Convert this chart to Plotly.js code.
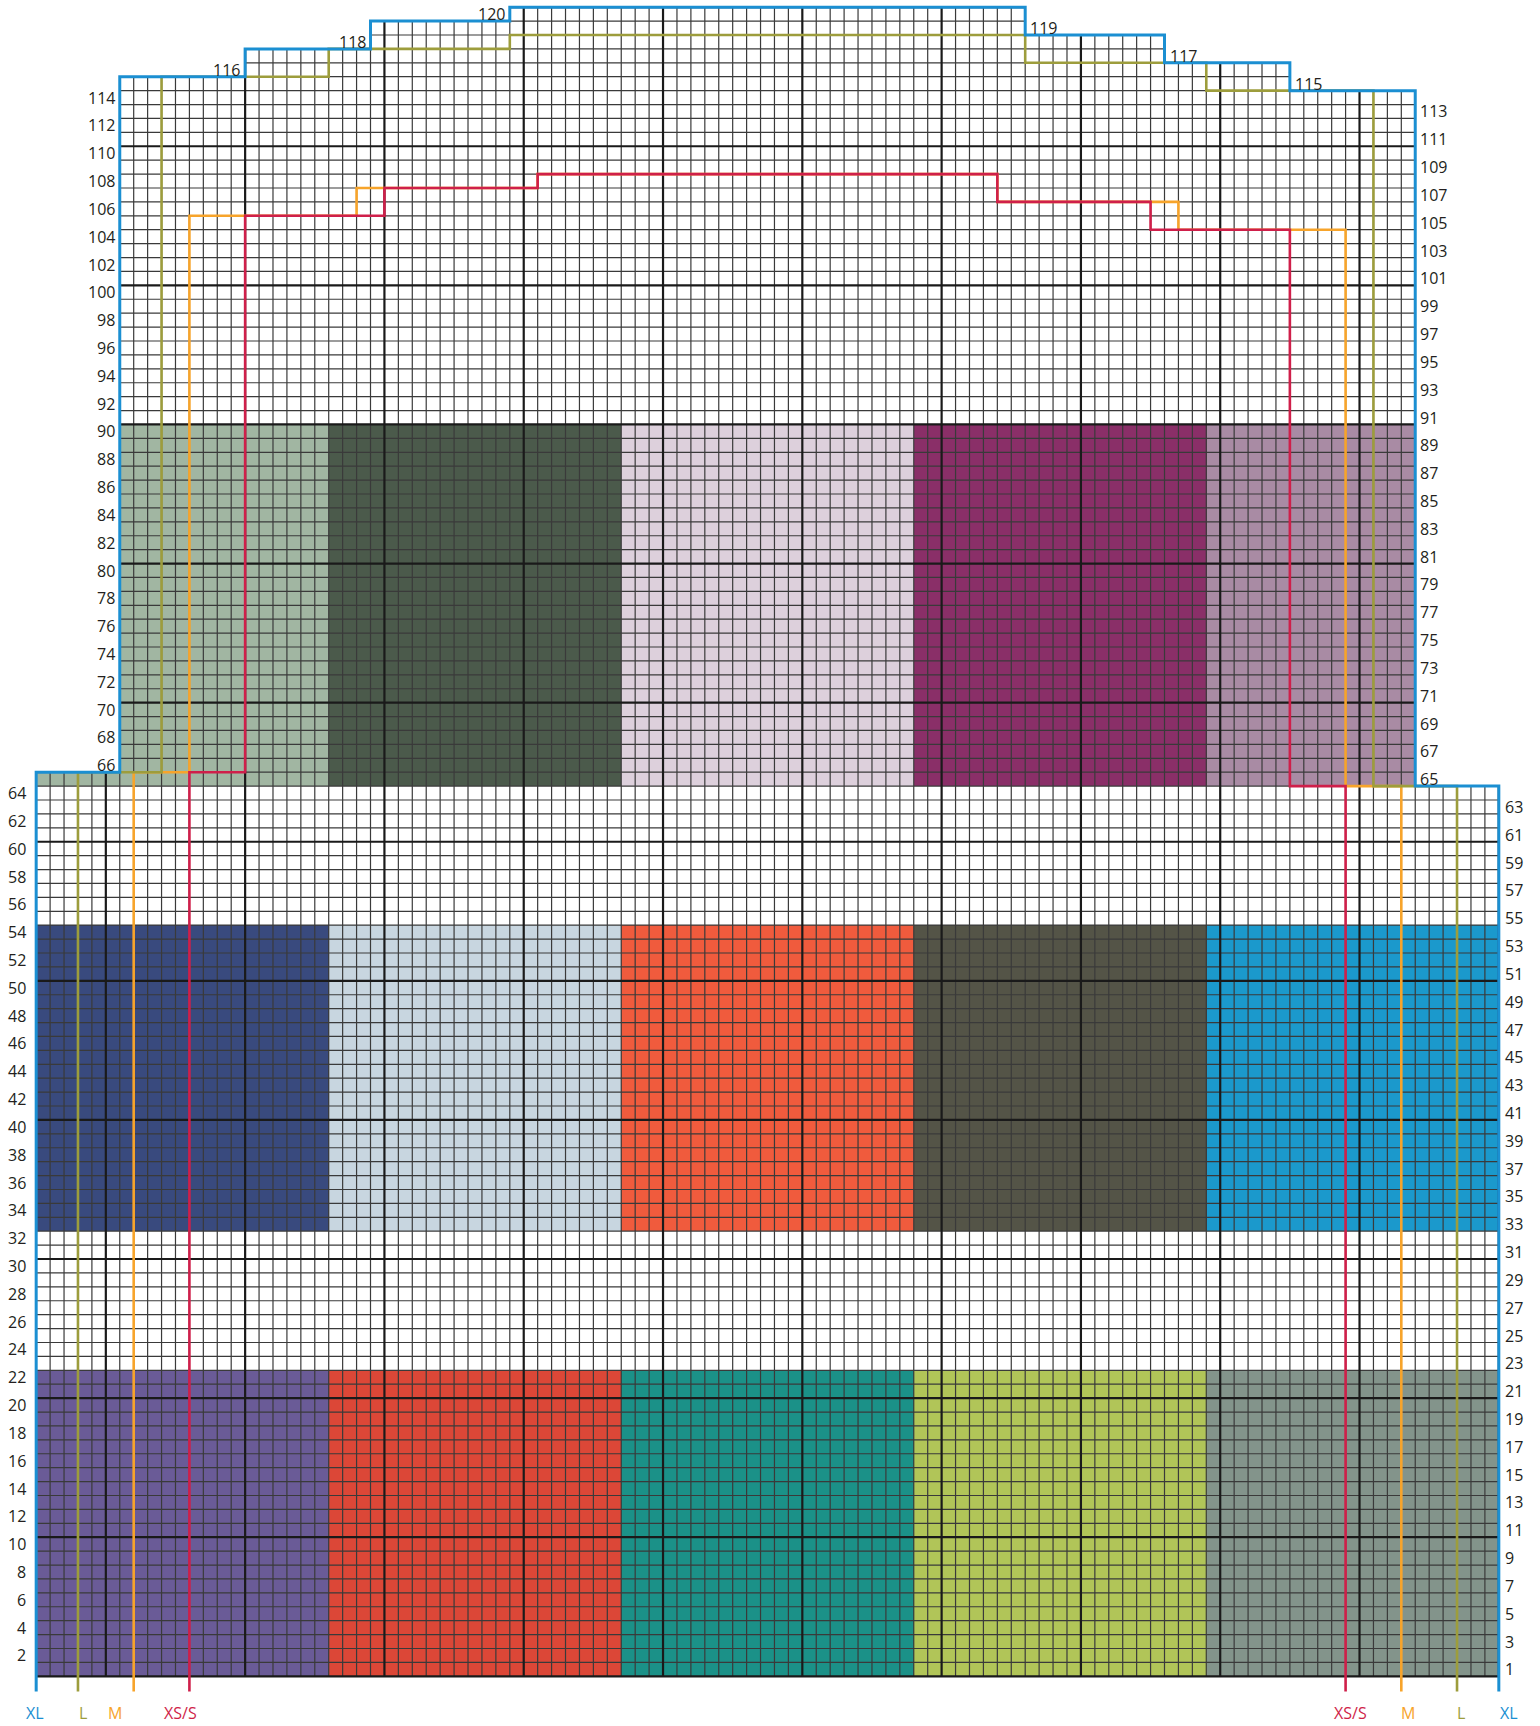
<!DOCTYPE html>
<html><head><meta charset="utf-8">
<script src="https://cdn.plot.ly/plotly-3.0.1.min.js"></script>
<style>html,body{margin:0;padding:0;background:#fff;} #chart{width:1540px;height:1726px;}</style>
</head><body><div id="chart"></div>
<script>
// ---------------- DATA ----------------
const nCols = 105;
// colour bands: [firstRow, lastRow]
const bandRows = [[1, 22], [33, 54], [65, 90]];
// colour blocks: [firstColBoundary, lastColBoundary]
const blockCols = [[0, 21], [21, 42], [42, 63], [63, 84], [84, 105]];
const bottomBandColors = ['#6a5b97', '#dc4737', '#1b9188', '#b1c558', '#83948b'];
const middleBandColors = ['#394a7e', '#c8d6e0', '#f05b3d', '#545447', '#1b99cc'];
const topBandColors = ['#a1b6a2', '#4b5a4b', '#ddd0dc', '#8a2f68', '#a98ba4'];

// size outlines as steps [column boundary, up to row]
const sizeNames = ['XL', 'L', 'M', 'XS/S'];
const sizeColors = ['#1b8fd2', '#9d9d3c', '#f7a42b', '#cf1f4a'];
const xlLeft = [[0, 65], [6, 115], [15, 117], [24, 119], [34, 120]];
const xlRight = [[105, 64], [99, 114], [90, 116], [81, 118], [71, 120]];
const lLeft = [[3, 65], [9, 115], [21, 117], [34, 118]];
const lRight = [[102, 64], [96, 114], [84, 116], [71, 118]];
const mLeft = [[7, 65], [11, 105], [23, 107], [36, 108]];
const mRight = [[98, 64], [94, 104], [82, 106], [69, 108]];
const xssLeft = [[11, 65], [15, 105], [25, 107], [36, 108]];
const xssRight = [[94, 64], [90, 104], [80, 106], [69, 108]];

// ---------------- BUILD ----------------
function boundAt(steps, n) { for (const s of steps) if (n <= s[1]) return s[0]; return null; }
const topRow = xlLeft[xlLeft.length - 1][1];
const Lb = n => boundAt(xlLeft, n);
const Rb = n => boundAt(xlRight, n);

const bandColorSets = [bottomBandColors, middleBandColors, topBandColors];
const palette = ['#ffffff'].concat(bottomBandColors, middleBandColors, topBandColors);
const N = palette.length;
const colorscale = [];
palette.forEach((c, k) => { colorscale.push([k / N, c]); colorscale.push([(k + 1) / N, c]); });

const xc = [], yc = [], z = [];
for (let j = 0; j < nCols; j++) xc.push(j + 0.5);
for (let n = 1; n <= topRow; n++) {
  yc.push(n - 0.5);
  const row = [];
  const bi = bandRows.findIndex(b => n >= b[0] && n <= b[1]);
  for (let j = 0; j < nCols; j++) {
    if (j < Lb(n) || j >= Rb(n)) { row.push(null); continue; }
    if (bi < 0) { row.push(null); continue; }
    const ki = blockCols.findIndex(b => j >= b[0] && j < b[1]);
    row.push(1 + bi * 5 + ki);
  }
  z.push(row);
}

// grid lines
const thinX = [], thinY = [], thickX = [], thickY = [];
function seg(ax, ay, x0, y0, x1, y1) { ax.push(x0, x1, null); ay.push(y0, y1, null); }
for (let r = 0; r <= topRow; r++) {
  const row = Math.max(r, 1);
  const isThick = r % 10 === 0;
  seg(isThick ? thickX : thinX, isThick ? thickY : thinY, Lb(row), r, Rb(row), r);
}
for (let c = 0; c <= nCols; c++) {
  let top = 0;
  for (let n = 1; n <= topRow; n++) if (Lb(n) <= c && c <= Rb(n)) top = n;
  const isThick = c % 10 === 5;
  seg(isThick ? thickX : thinX, isThick ? thickY : thinY, c, 0, c, top);
}

const ext = -1.1;
function outline(L, R) {
  const xs = [L[0][0]], ys = [ext];
  for (let i = 0; i < L.length - 1; i++) { xs.push(L[i][0], L[i + 1][0]); ys.push(L[i][1], L[i][1]); }
  const top = L[L.length - 1][1];
  xs.push(L[L.length - 1][0]); ys.push(top);
  const m = R.length - 1;
  xs.push(R[m][0]); ys.push(top);
  for (let i = m; i >= 1; i--) { xs.push(R[i][0], R[i - 1][0]); ys.push(R[i - 1][1], R[i - 1][1]); }
  xs.push(R[0][0]); ys.push(ext);
  return { xs, ys };
}
const outlines = [[xlLeft, xlRight], [lLeft, lRight], [mLeft, mRight], [xssLeft, xssRight]];
const widths = [3, 2.6, 2.6, 2.6];
const drawOrder = [2, 3, 1, 0];

const traces = [
  { type: 'heatmap', x: xc, y: yc, z: z, colorscale: colorscale, zmin: -0.5, zmax: N - 0.5,
    showscale: false, hoverinfo: 'skip' },
  { type: 'scatter', mode: 'lines', x: thinX, y: thinY, line: { color: '#3a3a3a', width: 1.2 },
    hoverinfo: 'skip', showlegend: false },
  { type: 'scatter', mode: 'lines', x: thickX, y: thickY, line: { color: '#1a1a1a', width: 2.2 },
    hoverinfo: 'skip', showlegend: false }
];
drawOrder.forEach(i => {
  const o = outline(outlines[i][0], outlines[i][1]);
  traces.push({ type: 'scatter', mode: 'lines', x: o.xs, y: o.ys, name: sizeNames[i],
    line: { color: sizeColors[i], width: widths[i] }, hoverinfo: 'skip', showlegend: false });
});

const annotations = [];
const labFont = { family: 'Open Sans, sans-serif', size: 16, color: '#231f20' };
for (let n = 1; n <= topRow; n++) {
  if (n % 2 === 0) {
    const c = Lb(n);
    annotations.push({ x: c, y: n - 0.5, xref: 'x', yref: 'y', text: String(n), showarrow: false,
      xanchor: 'right', yanchor: 'middle', xshift: c === 0 ? -8 : -3, font: labFont });
  } else {
    const c = Rb(n);
    annotations.push({ x: c, y: n - 0.5, xref: 'x', yref: 'y', text: String(n), showarrow: false,
      xanchor: 'left', yanchor: 'middle', xshift: c === nCols ? 4 : 3, font: labFont });
  }
}
// size labels under the chart
const sizeLabelShiftsLeft = [-1, 5, -19, -9];
const sizeLabelShiftsRight = [10, 4, 7, 5];
outlines.forEach((o, i) => {
  const f = { family: 'Open Sans, sans-serif', size: 16, color: sizeColors[i] };
  annotations.push({ x: o[0][0][0], y: ext, xref: 'x', yref: 'y', text: sizeNames[i], showarrow: false,
    xanchor: 'center', yanchor: 'middle', xshift: sizeLabelShiftsLeft[i], yshift: -21, font: f });
  annotations.push({ x: o[1][0][0], y: ext, xref: 'x', yref: 'y', text: sizeNames[i], showarrow: false,
    xanchor: 'center', yanchor: 'middle', xshift: sizeLabelShiftsRight[i], yshift: -21, font: f });
});

// geometry: 13.929 px per column, 13.91 px per row
const xr = [-0.3, 105.3], yr = [-1.2, 120.3];
const pxX = 13.929, pxY = 13.91;
const mL = 36.5 + xr[0] * pxX;
const plotW = (xr[1] - xr[0]) * pxX;
const mT = 7.3 - (yr[1] - 120) * pxY;
const plotH = (yr[1] - yr[0]) * pxY;

const layout = {
  width: 1540, height: 1726,
  margin: { l: mL, r: 1540 - mL - plotW, t: mT, b: 1726 - mT - plotH, pad: 0 },
  paper_bgcolor: '#ffffff', plot_bgcolor: '#ffffff',
  xaxis: { range: xr, showgrid: false, zeroline: false, showticklabels: false, ticks: '', showline: false, fixedrange: true },
  yaxis: { range: yr, showgrid: false, zeroline: false, showticklabels: false, ticks: '', showline: false, fixedrange: true },
  annotations: annotations,
  showlegend: false
};
Plotly.newPlot('chart', traces, layout, { displayModeBar: false, staticPlot: true });
</script>
</body></html>
